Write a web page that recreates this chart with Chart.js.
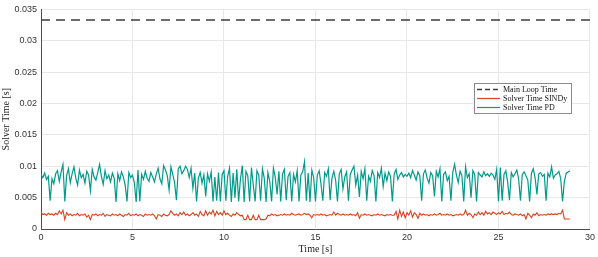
<!DOCTYPE html>
<html>
<head>
<meta charset="utf-8">
<script src="https://cdn.jsdelivr.net/npm/chart.js@4"></script>
<style>
  html, body { margin: 0; padding: 0; background: #fff; }
  #wrap { width: 598px; height: 257px; }
</style>
</head>
<body>
<div id="wrap"><canvas id="c" width="598" height="257"></canvas></div>
<script>
// sampling step of the logged data (s)
const TIME_STEP = 0.1;

// main loop period (s)
const mainLoopTime = 0.0333;

// solver time PD, in ms, one row per second
const pdMs = [
  8.7, 8.2, 8.9, 7.9, 8.4, 4.5, 8.0, 7.2, 8.8, 9.3,
  7.6, 9.1, 10.3, 4.4, 8.5, 9.6, 7.4, 8.8, 9.9, 8.1,
  7.0, 9.4, 8.2, 8.7, 7.3, 9.2, 8.6, 6.1, 9.5, 8.3,
  7.8, 9.0, 10.3, 8.4, 7.1, 9.3, 8.0, 8.6, 7.5, 8.9,
  8.1, 4.3, 8.8, 7.7, 9.1, 8.3, 7.0, 4.4, 9.0, 8.2,
  8.6, 7.4, 4.3, 9.4, 4.4, 8.7, 7.9, 9.2, 8.1, 7.6,
  9.0, 8.3, 7.5, 8.8, 9.7, 8.0, 7.2, 10.1, 9.4, 8.5,
  6.2, 9.9, 8.7, 7.4, 4.6, 9.6, 10.0, 8.8, 9.3, 10.0,
  9.5, 8.2, 9.7, 6.5, 8.9, 4.4, 8.1, 9.0, 7.3, 8.6,
  5.2, 8.8, 7.6, 9.1, 4.4, 8.3, 4.5, 9.0, 4.4, 8.7,
  9.3, 4.5, 8.4, 9.7, 4.3, 8.9, 5.0, 9.5, 4.4, 8.0,
  10.1, 4.3, 9.2, 8.5, 4.4, 9.8, 7.0, 4.4, 9.3, 8.6,
  4.5, 9.6, 8.1, 4.3, 9.0, 7.6, 4.4, 9.7, 8.3, 5.5,
  9.2, 4.4, 8.8, 9.5, 4.6, 8.4, 9.0, 4.4, 8.7, 7.5,
  9.3, 4.4, 8.6, 9.1, 10.7, 4.5, 8.9, 4.3, 9.4, 8.2,
  4.4, 8.6, 9.3, 7.2, 4.5, 9.0, 8.4, 9.6, 4.6, 8.1,
  9.2, 7.8, 4.4, 8.8, 9.5, 6.4, 8.3, 9.1, 4.5, 8.7,
  9.4, 10.0, 7.0, 8.6, 5.1, 9.2, 8.0, 9.6, 4.5, 8.4,
  7.6, 9.3, 8.5, 4.4, 9.0, 8.2, 9.7, 6.8, 8.9, 7.7,
  9.1, 8.4, 4.4, 8.8, 9.5, 7.9, 8.6, 9.0, 8.3, 8.7,
  8.4, 8.9, 8.2, 9.3, 8.6, 7.8, 9.1, 8.5, 4.5, 8.8,
  9.4, 8.1, 7.3, 9.0, 8.5, 5.2, 9.2, 8.3, 9.6, 4.4,
  8.7, 9.1, 7.7, 8.4, 4.5, 9.0, 10.3, 8.6, 7.4, 9.2,
  8.5, 4.4, 9.9, 8.2, 8.8, 5.0, 9.3, 8.7, 4.4, 9.0,
  8.6, 8.3, 9.1, 8.5, 8.8, 8.4, 8.9, 8.6, 7.9, 9.5,
  4.4, 9.8, 4.5, 8.7, 9.3, 7.5, 4.6, 9.0, 8.3, 8.8,
  9.4, 8.0, 4.5, 8.7, 9.1, 8.5, 7.8, 4.4, 8.9, 9.6,
  8.2, 5.5, 8.8, 9.0, 8.4, 8.7, 4.5, 8.9, 8.3, 9.9,
  8.1, 8.6, 8.8, 9.2, 8.0, 4.4, 7.6, 8.9, 9.1, 9.3
];

// solver time SINDy, in ms, one row per second
const sindyMs = [
  2.7, 2.3, 2.4, 2.2, 2.5, 2.3, 2.4, 2.2, 2.5, 2.3,
  2.9, 2.4, 3.0, 1.5, 2.6, 2.2, 2.4, 2.1, 2.3, 2.2,
  2.5, 2.1, 2.3, 2.2, 2.4, 1.9, 2.2, 1.5, 2.3, 2.2,
  2.4, 2.1, 2.3, 2.2, 2.5, 2.0, 2.3, 2.2, 2.1, 2.4,
  2.2, 2.3, 2.1, 2.4, 2.2, 2.0, 2.3, 2.2, 2.5, 2.1,
  2.3, 2.2, 2.4, 2.1, 2.3, 2.2, 2.0, 2.4, 2.2, 2.3,
  2.2, 2.4, 2.1, 1.6, 2.3, 2.2, 2.0, 2.4, 2.2, 2.1,
  2.3, 2.9, 2.5, 2.2, 2.4, 2.1, 2.6, 2.3, 2.7, 2.2,
  2.4, 2.1, 2.3, 2.6, 2.2, 2.4, 2.0, 2.8, 2.3, 2.1,
  2.9, 2.2, 2.7, 2.4, 3.0, 2.1, 2.8, 2.3, 2.6, 2.2,
  2.9, 2.3, 2.5, 2.2, 2.0, 2.4, 2.2, 2.6, 2.3, 2.1,
  2.2, 1.5, 1.5, 2.2, 1.5, 1.5, 2.2, 1.5, 1.5, 2.2,
  1.5, 1.5, 1.5, 1.6, 2.2, 2.1, 2.4, 2.2, 2.3, 2.1,
  2.2, 2.3, 2.2, 2.4, 2.2, 2.3, 2.2, 2.5, 2.3, 2.2,
  2.3, 2.4, 2.2, 2.3, 2.5, 2.3, 2.4, 2.2, 1.8, 2.3,
  2.2, 2.3, 2.2, 2.4, 2.2, 2.3, 2.1, 2.2, 2.3, 2.2,
  2.7, 2.2, 2.5, 2.3, 2.2, 2.4, 2.2, 2.3, 2.2, 2.4,
  2.2, 2.3, 2.1, 2.6, 1.7, 2.3, 2.2, 2.4, 2.2, 2.3,
  2.2, 2.1, 2.3, 2.2, 2.4, 2.2, 2.3, 2.2, 2.1, 2.3,
  2.2, 2.3, 2.2, 2.2, 2.8, 1.6, 3.0, 2.0, 2.7, 1.8,
  2.6, 2.2, 2.9, 1.9, 2.6, 2.3, 1.7, 2.5, 2.2, 2.4,
  2.2, 2.3, 2.1, 2.3, 2.2, 2.4, 2.2, 2.3, 2.5, 2.2,
  2.3, 2.2, 2.4, 2.2, 2.3, 2.1, 2.2, 2.3, 2.2, 2.4,
  2.2, 2.3, 3.0, 2.2, 2.5, 2.3, 1.8, 2.4, 2.2, 2.7,
  2.3, 2.6, 2.2, 2.8, 2.4, 2.6, 2.3, 2.7, 2.5, 2.3,
  2.6, 2.4, 2.8, 2.3, 2.5, 2.4, 2.7, 2.3, 2.2, 2.4,
  2.3, 2.2, 2.4, 2.1, 2.3, 1.6, 2.5, 2.2, 1.8, 2.4,
  2.2, 2.6, 2.1, 2.3, 2.2, 2.3, 2.2, 2.4, 2.3, 2.4,
  2.3, 2.4, 2.3, 2.5, 2.4, 3.0, 1.6, 1.6, 1.6, 1.6
];

const xTicks = [0, 5, 10, 15, 20, 25, 30];
const yTicks = [0, 0.005, 0.01, 0.015, 0.02, 0.025, 0.03, 0.035];
const yTickLabels = ['0', '0.005', '0.01', '0.015', '0.02', '0.025', '0.03', '0.035'];
const seriesNames = ['Main Loop Time', 'Solver Time SINDy', 'Solver Time PD'];

const COL_MAIN = '#3c3c3c';
const COL_SINDY = '#d8431f';
const COL_PD = '#009b8a';

function toPoints(msArr) {
  return msArr.map((v, i) => ({ x: +(i * TIME_STEP).toFixed(2), y: v / 1000 }));
}

const tickFont = { family: '"Liberation Sans", Arial, sans-serif', size: 9 };
const titleFont = { family: '"Liberation Serif", "DejaVu Serif", serif', size: 10 };

// MATLAB style legend with line samples
const legendBox = {
  id: 'legendBox',
  afterDraw(chart) {
    const ctx = chart.ctx;
    const x = 474, y = 83, w = 97, h = 30;
    ctx.save();
    ctx.fillStyle = '#fff';
    ctx.fillRect(x, y, w, h);
    ctx.strokeStyle = '#8a8a8a';
    ctx.lineWidth = 1;
    ctx.strokeRect(x + 0.5, y + 0.5, w, h);
    const cols = [COL_MAIN, COL_SINDY, COL_PD];
    ctx.font = '8px "Liberation Serif", "DejaVu Serif", serif';
    ctx.textBaseline = 'middle';
    for (let i = 0; i < 3; i++) {
      const ly = y + 6.5 + i * 9;
      ctx.beginPath();
      ctx.strokeStyle = cols[i];
      ctx.lineWidth = i === 0 ? 1.5 : 1.2;
      ctx.setLineDash(i === 0 ? [5, 3] : []);
      ctx.moveTo(x + 3, ly);
      ctx.lineTo(x + 26, ly);
      ctx.stroke();
      ctx.setLineDash([]);
      ctx.fillStyle = '#111';
      ctx.fillText(seriesNames[i], x + 29, ly);
    }
    ctx.restore();
  }
};

new Chart(document.getElementById('c'), {
  type: 'line',
  data: {
    datasets: [
      {
        label: seriesNames[0],
        data: [{ x: xTicks[0], y: mainLoopTime }, { x: xTicks[xTicks.length - 1], y: mainLoopTime }],
        borderColor: COL_MAIN,
        borderWidth: 1.5,
        borderDash: [9, 6],
        pointRadius: 0
      },
      {
        label: seriesNames[1],
        data: toPoints(sindyMs),
        borderColor: COL_SINDY,
        borderWidth: 1.1,
        pointRadius: 0
      },
      {
        label: seriesNames[2],
        data: toPoints(pdMs),
        borderColor: COL_PD,
        borderWidth: 1.2,
        pointRadius: 0
      }
    ]
  },
  options: {
    responsive: false,
    animation: false,
    layout: { padding: { top: 5, right: 7, left: 0, bottom: 0 } },
    plugins: {
      legend: { display: false },
      tooltip: { enabled: false }
    },
    scales: {
      x: {
        type: 'linear',
        min: 0,
        max: 30,
        afterBuildTicks: s => { s.ticks = xTicks.map(v => ({ value: v })); },
        grid: { color: '#e8e8e8', drawTicks: false },
        border: { color: '#4d4d4d' },
        ticks: { font: tickFont, color: '#333', padding: 3, maxRotation: 0 },
        title: { display: true, text: 'Time [s]', font: titleFont, color: '#222', padding: { top: 0, bottom: 2 } },
        afterFit: s => { s.height = 28; }
      },
      y: {
        min: 0,
        max: 0.035,
        afterBuildTicks: s => { s.ticks = yTicks.map(v => ({ value: v })); },
        grid: { color: '#e8e8e8', drawTicks: false },
        border: { color: '#4d4d4d' },
        ticks: {
          font: tickFont, color: '#333', padding: 4,
          callback: (v, i) => yTickLabels[i]
        },
        title: { display: true, text: 'Solver Time [s]', font: titleFont, color: '#222', padding: { top: 0, bottom: 2 } },
        afterFit: s => { s.width = 41; }
      }
    }
  },
  plugins: [legendBox]
});
</script>
</body>
</html>
